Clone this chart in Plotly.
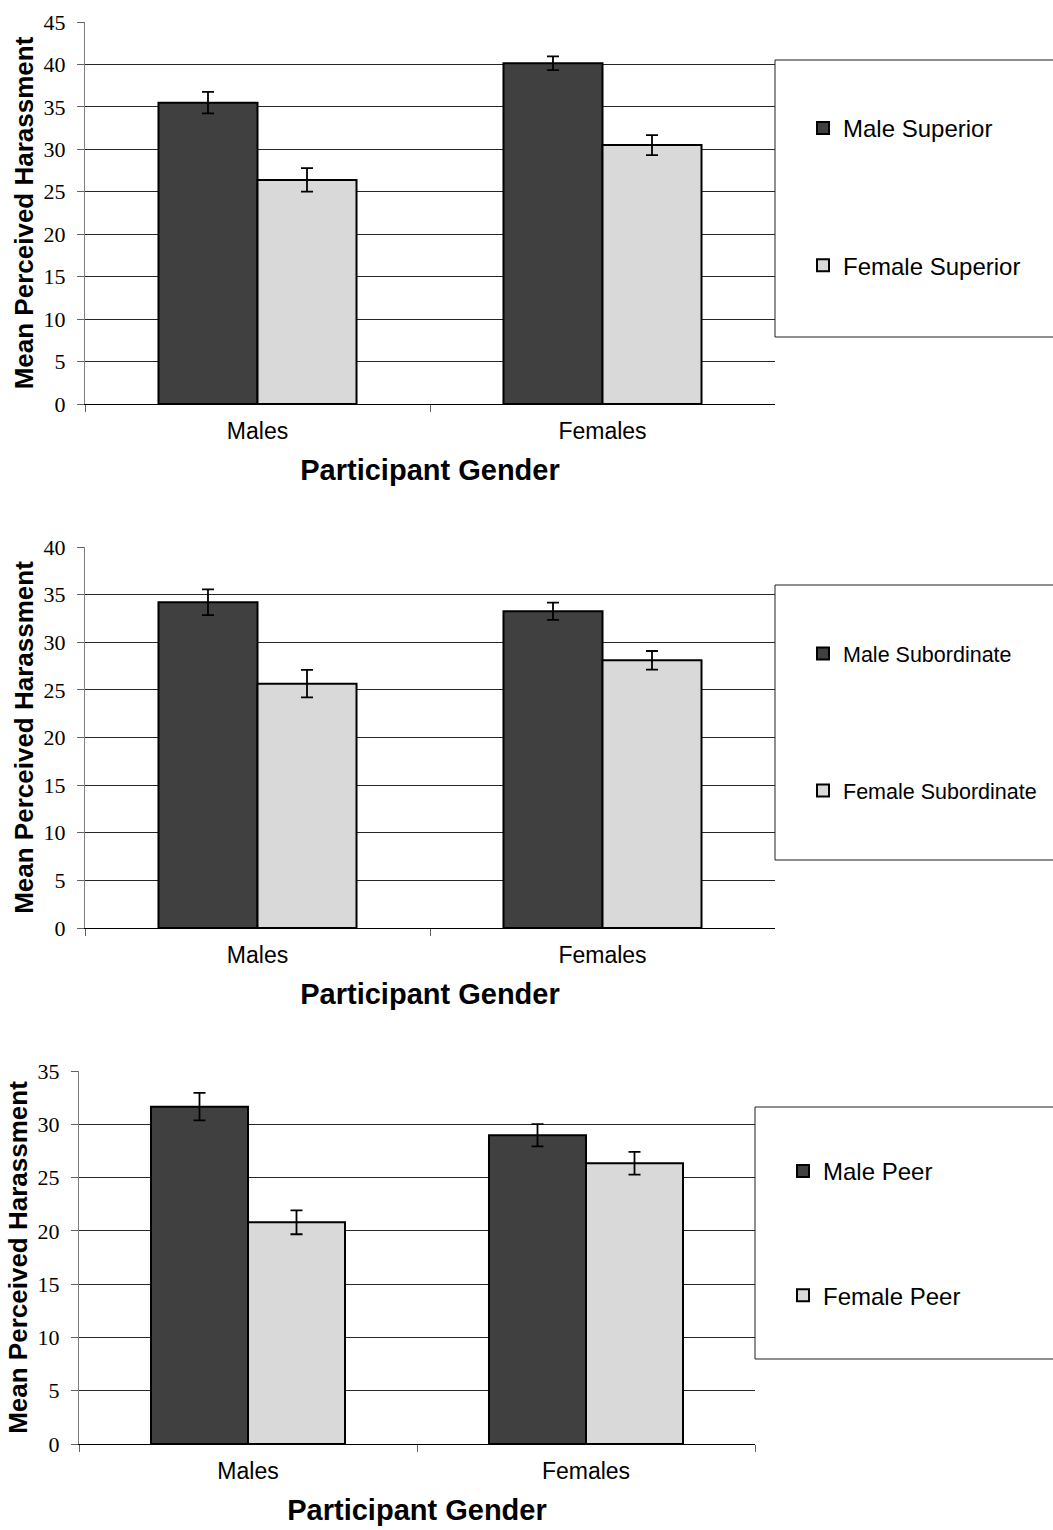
import plotly.graph_objects as go

# ---------------- data ----------------
categories = ["Males", "Females"]

superior_male = [35.5, 40.15]
superior_male_err = [1.27, 0.81]
superior_female = [26.4, 30.5]
superior_female_err = [1.39, 1.18]

subordinate_male = [34.2, 33.25]
subordinate_male_err = [1.35, 0.91]
subordinate_female = [25.65, 28.1]
subordinate_female_err = [1.44, 0.98]

peer_male = [31.65, 28.97]
peer_male_err = [1.29, 1.04]
peer_female = [20.8, 26.35]
peer_female_err = [1.12, 1.07]

y_ranges = [45, 40, 35]
legend_names = [("Male Superior", "Female Superior"),
                ("Male Subordinate", "Female Subordinate"),
                ("Male Peer", "Female Peer")]
x_title = "Participant Gender"
y_title = "Mean Perceived Harassment"

# ---------------- layout geometry (pixels) ----------------
W, H = 1053, 1530
panels = [
    dict(x0=85, x1=775, top=22, bottom=404, box=(775, 60, 337), leg_y=106),
    dict(x0=85, x1=775, top=547, bottom=928, box=(775, 585, 860), leg_y=633),
    dict(x0=79, x1=755, top=1071, bottom=1444, box=(755, 1107, 1359), leg_y=1149),
]
gaps = [103, 106, 90]
legend_font_sizes = [24, 21.5, 24]

DARK = "#404040"
LIGHT = "#d9d9d9"

series = [
    (superior_male, superior_male_err, superior_female, superior_female_err),
    (subordinate_male, subordinate_male_err, subordinate_female, subordinate_female_err),
    (peer_male, peer_male_err, peer_female, peer_female_err),
]

fig = go.Figure()
layout = dict(
    width=W, height=H,
    margin=dict(l=0, r=0, t=0, b=0, autoexpand=False),
    paper_bgcolor="white", plot_bgcolor="white",
    barmode="group", bargap=0.426, bargroupgap=0,
    template="none",
    shapes=[],
)

for i, (p, s) in enumerate(zip(panels, series)):
    n = "" if i == 0 else str(i + 1)
    xa, ya, lg = "x" + n, "y" + n, "legend" + n
    m, me, f, fe = s
    nm_m, nm_f = legend_names[i]
    for vals, errs, name, col, grp in [(m, me, nm_m, DARK, "a"), (f, fe, nm_f, LIGHT, "b")]:
        fig.add_trace(go.Bar(
            x=categories, y=vals, name=name,
            marker=dict(color=col, line=dict(color="black", width=2)),
            error_y=dict(type="data", array=errs, color="black", thickness=1.8, width=6),
            xaxis=xa, yaxis=ya, legend=lg, legendgroup=f"p{i}{grp}",
        ))
    layout["xaxis" + n] = dict(
        domain=[p["x0"] / W, p["x1"] / W], anchor=ya,
        showline=True, linecolor="black", linewidth=1,
        ticks="outside", tickson="boundaries", ticklen=7, tickcolor="#606060",
        ticklabelstandoff=6,
        tickfont=dict(family="Liberation Sans", size=23, color="black"),
        title=dict(text="<b>" + x_title + "</b>",
                   font=dict(family="Liberation Sans", size=29, color="black"), standoff=17),
        showgrid=False, zeroline=False, automargin=False, fixedrange=True,
    )
    layout["yaxis" + n] = dict(
        domain=[1 - p["bottom"] / H, 1 - p["top"] / H], anchor=xa,
        range=[0, y_ranges[i]], dtick=5, tick0=0,
        showline=True, linecolor="#808080", linewidth=1,
        ticks="outside", ticklen=7, tickcolor="#606060",
        ticklabelstandoff=7,
        tickfont=dict(family="Liberation Serif", size=22, color="black"),
        showgrid=True, gridcolor="#262626", gridwidth=1,
        zeroline=False, automargin=False, fixedrange=True,
        title=dict(text="<b>" + y_title + "</b>",
                   font=dict(family="Liberation Sans", size=26, color="black"), standoff=2),
    )
    bx, by0, by1 = p["box"]
    layout["shapes"].append(dict(
        type="rect", xref="paper", yref="paper",
        x0=bx / W, x1=1.01, y0=1 - by1 / H, y1=1 - by0 / H,
        line=dict(color="#202020", width=1), fillcolor="rgba(0,0,0,0)", layer="below",
    ))
    layout[lg] = dict(
        x=(bx + 28) / W, y=1 - p["leg_y"] / H, xanchor="left", yanchor="top",
        bgcolor="rgba(0,0,0,0)", borderwidth=0,
        font=dict(family="Liberation Sans", size=legend_font_sizes[i], color="black"),
        tracegroupgap=gaps[i], traceorder="grouped",
    )

fig.update_layout(**layout)
fig.write_html(
    "out.html",
    config={"displayModeBar": False},
    post_script="document.body.style.margin='0';document.body.style.overflow='hidden';",
)
